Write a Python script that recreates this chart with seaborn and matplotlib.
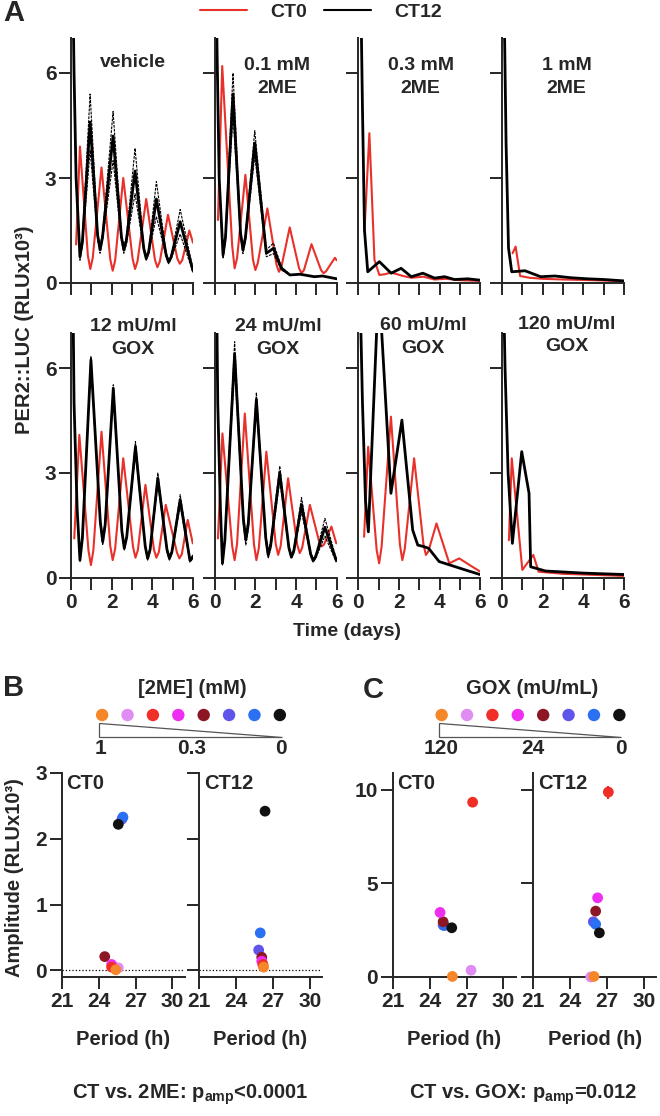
import matplotlib
matplotlib.use("Agg")
import matplotlib.pyplot as plt
from matplotlib.lines import Line2D
from matplotlib.patches import Polygon
import seaborn as sns
import pandas as pd

# ---- panel A traces (time in days, PER2::LUC in RLU x10^3) ----
veh_ct0_t = [0.25, 0.44, 0.83, 0.95, 1.07, 1.5, 1.93, 2.05, 2.17, 2.57, 3.03, 3.15, 3.27, 3.7,
             4.13, 4.25, 4.37, 4.77, 5.23, 5.35, 5.47, 5.82, 6.0]
veh_ct0_y = [1.1, 3.9, 0.78, 0.4, 0.72, 3.3, 0.68, 0.35, 0.64, 3.0, 0.69, 0.4, 0.62, 2.4,
             0.66, 0.45, 0.62, 1.95, 0.7, 0.55, 0.65, 1.5, 1.15]
veh_ct12_t = [0.08, 0.15, 0.25, 0.44, 0.56, 0.94, 1.31, 1.43, 1.55, 2.07, 2.48, 2.6, 2.72, 3.15,
              3.58, 3.7, 3.82, 4.2, 4.68, 4.8, 4.92, 5.37, 6.0]
veh_ct12_y = [9.0, 6.0, 3.0, 0.75, 1.17, 4.6, 1.36, 0.95, 1.31, 4.2, 1.31, 0.95, 1.2, 3.2,
              0.98, 0.7, 0.89, 2.4, 0.8, 0.6, 0.73, 1.75, 0.35]
veh_ct12_sd = [0, 0, 0, 0.1, 0.1, 0.8, 0.1, 0.1, 0.1, 0.7, 0.1, 0.1, 0.1, 0.65,
               0.05, 0.05, 0.05, 0.5, 0.05, 0.05, 0.05, 0.35, 0.05]

me01_ct0_t = [0.16, 0.37, 0.86, 0.98, 1.1, 1.51, 1.88, 2.0, 2.12, 2.59, 3.04, 3.16, 3.28, 3.69,
              4.15, 4.27, 4.39, 4.76, 5.23, 5.35, 5.47, 5.91, 6.0]
me01_ct0_y = [1.8, 6.2, 1.06, 0.42, 0.71, 3.09, 0.67, 0.37, 0.57, 2.13, 0.52, 0.32, 0.46, 1.59,
              0.42, 0.28, 0.37, 1.11, 0.37, 0.28, 0.33, 0.72, 0.65]
me01_ct12_t = [0.06, 0.12, 0.22, 0.41, 0.53, 0.9, 1.27, 1.39, 1.51, 1.97, 2.54, 2.89, 3.28, 3.7,
               4.2, 4.9, 5.3, 6.0]
me01_ct12_y = [9.0, 6.5, 3.0, 0.8, 1.3, 5.4, 1.43, 0.94, 1.29, 4.0, 0.85, 0.99, 0.42, 0.23,
               0.25, 0.18, 0.2, 0.12]
me01_ct12_sd = [0, 0, 0, 0.1, 0.1, 0.6, 0.1, 0.1, 0.1, 0.35, 0.1, 0.15, 0.05, 0,
                0, 0, 0, 0]

me03_ct0_t = [0.3, 0.54, 0.79, 1.03, 1.3, 1.6, 2.2, 2.6, 3.2, 3.75, 4.3, 5.0, 6.0]
me03_ct0_y = [1.5, 4.28, 0.66, 0.23, 0.25, 0.3, 0.2, 0.15, 0.18, 0.1, 0.12, 0.08, 0.06]
me03_ct12_t = [0.1, 0.2, 0.3, 0.46, 1.03, 1.61, 2.1, 2.6, 3.17, 3.75, 4.24, 4.73, 5.38, 6.0]
me03_ct12_y = [9.0, 5.0, 1.5, 0.32, 0.61, 0.28, 0.42, 0.18, 0.28, 0.14, 0.18, 0.1, 0.12, 0.08]

me1_ct0_t = [0.52, 0.67, 0.89, 1.35, 2.0, 3.0, 4.5, 6.0]
me1_ct0_y = [0.85, 1.04, 0.2, 0.15, 0.12, 0.1, 0.08, 0.05]
me1_ct12_t = [0.08, 0.2, 0.32, 0.48, 1.13, 1.9, 2.6, 3.4, 4.2, 5.0, 6.0]
me1_ct12_y = [9.0, 4.0, 1.0, 0.32, 0.35, 0.18, 0.2, 0.15, 0.12, 0.1, 0.06]

gox12_ct0_t = [0.16, 0.41, 0.86, 0.98, 1.1, 1.5, 1.93, 2.05, 2.17, 2.57, 3.05, 3.17, 3.29, 3.66,
               4.08, 4.2, 4.32, 4.66, 5.21, 5.33, 5.45, 5.74, 5.99]
gox12_ct0_y = [1.13, 4.09, 0.78, 0.37, 0.79, 4.18, 0.92, 0.51, 0.83, 3.42, 0.89, 0.58, 0.8, 2.66,
               0.81, 0.58, 0.74, 2.09, 0.73, 0.56, 0.68, 1.66, 0.99]
gox12_ct12_t = [0.08, 0.15, 0.3, 0.44, 0.56, 0.98, 1.44, 1.56, 1.68, 2.08, 2.5, 2.62, 2.74, 3.17,
                3.65, 3.77, 3.89, 4.27, 4.72, 4.84, 4.96, 5.37, 5.85, 6.0]
gox12_ct12_y = [9.0, 5.0, 2.0, 0.51, 1.14, 6.23, 1.61, 1.04, 1.52, 5.42, 1.35, 0.85, 1.17, 3.75,
                0.91, 0.56, 0.81, 2.85, 0.81, 0.56, 0.74, 2.23, 0.5, 0.61]
gox12_ct12_sd = [0, 0, 0, 0.05, 0.05, 0.1, 0.1, 0.1, 0.1, 0.1, 0.05, 0.05, 0.05, 0.15,
                 0.05, 0.05, 0.05, 0.15, 0.05, 0.05, 0.05, 0.15, 0.05, 0.05]

gox24_ct0_t = [0.16, 0.38, 0.86, 0.98, 1.1, 1.48, 1.93, 2.05, 2.17, 2.54, 3.0, 3.12, 3.24, 3.61,
               4.06, 4.18, 4.3, 4.68, 5.14, 5.26, 5.38, 5.74, 5.98]
gox24_ct0_y = [1.13, 4.13, 0.91, 0.51, 0.98, 4.7, 0.97, 0.51, 0.85, 3.61, 0.98, 0.66, 0.9, 2.85,
               0.95, 0.71, 0.86, 2.09, 1.03, 0.9, 0.96, 1.47, 0.99]
gox24_ct12_t = [0.08, 0.15, 0.28, 0.38, 0.5, 0.98, 1.41, 1.53, 1.65, 2.05, 2.51, 2.63, 2.75, 3.2,
                3.65, 3.77, 3.89, 4.27, 4.72, 4.84, 4.96, 5.42, 5.98]
gox24_ct12_y = [9.0, 5.0, 2.0, 0.42, 1.08, 6.4, 1.68, 1.09, 1.53, 5.1, 1.15, 0.66, 0.92, 3.0,
                0.86, 0.6, 0.77, 2.1, 0.68, 0.5, 0.6, 1.45, 0.5]
gox24_ct12_sd = [0, 0, 0, 0.05, 0.05, 0.35, 0.15, 0.15, 0.15, 0.2, 0.1, 0.1, 0.1, 0.2,
                 0.05, 0.05, 0.05, 0.2, 0.05, 0.05, 0.05, 0.25, 0.05]

gox60_ct0_t = [0.28, 0.48, 0.9, 1.02, 1.14, 1.6, 2.04, 2.16, 2.28, 2.74, 3.2, 3.32, 3.44, 3.84,
               4.47, 4.96, 5.47, 6.0]
gox60_ct0_y = [1.18, 3.75, 0.79, 0.42, 0.89, 4.61, 0.96, 0.51, 0.83, 3.42, 0.96, 0.66, 0.76, 1.56,
               0.42, 0.56, 0.37, 0.18]
gox60_ct12_t = [0.05, 0.2, 0.35, 0.49, 1.0, 1.6, 2.14, 2.67, 2.92, 3.2, 3.45, 3.97, 5.26, 6.03]
gox60_ct12_y = [9.0, 5.0, 2.2, 1.32, 8.5, 2.42, 4.51, 1.37, 0.94, 0.9, 0.85, 0.47, 0.23, 0.09]

gox120_ct0_t = [0.34, 0.48, 1.0, 1.54, 1.8, 3.0, 6.0]
gox120_ct0_y = [1.08, 3.42, 0.23, 0.66, 0.18, 0.12, 0.06]
gox120_ct12_t = [0.05, 0.15, 0.3, 0.51, 0.97, 1.33, 1.41, 2.14, 4.0, 6.0]
gox120_ct12_y = [9.0, 6.0, 3.0, 0.99, 3.61, 2.42, 0.32, 0.2, 0.14, 0.1]

panel_titles = ["vehicle", "0.1 mM\n2ME", "0.3 mM\n2ME", "1 mM\n2ME",
                "12 mU/ml\nGOX", "24 mU/ml\nGOX", "60 mU/ml\nGOX", "120 mU/ml\nGOX"]

# ---- panels B / C : period vs amplitude ----
dose_colors = ["#f5862a", "#e08cf2", "#f02e28", "#ee2ef0", "#8c1624", "#5f55ea", "#2b6ff2", "#111111"]
draw_order = [1, 5, 6, 4, 3, 2, 0, 7]
me_dose_labels = ["1", "0.3", "0"]
gox_dose_labels = ["120", "24", "0"]

period_2me_ct0 = [25.4, 25.6, 25.06, 25.06, 24.5, 25.9, 25.98, 25.6]
amp_2me_ct0 = [0.01, 0.04, 0.05, 0.09, 0.21, 2.3, 2.33, 2.22]
period_2me_ct12 = [26.25, 26.2, 26.2, 26.1, 26.1, 25.85, 25.98, 26.37]
amp_2me_ct12 = [0.05, 0.07, 0.09, 0.14, 0.2, 0.31, 0.57, 2.42]
err_2me_ct12 = [0, 0, 0, 0, 0, 0, 0, 0.08]

period_gox_ct0 = [25.85, 27.37, 27.5, 24.85, 25.1, 25.1, 25.2, 25.8]
amp_gox_ct0 = [0.03, 0.36, 9.34, 3.45, 2.95, 2.77, 2.75, 2.63]
err_gox_ct0 = [0, 0, 0.2, 0, 0, 0, 0, 0]
period_gox_ct12 = [25.93, 25.67, 27.1, 26.23, 26.07, 25.88, 26.07, 26.37]
amp_gox_ct12 = [0.03, 0.0, 9.88, 4.23, 3.52, 2.95, 2.82, 2.36]
err_gox_ct12 = [0, 0, 0.35, 0, 0, 0, 0, 0]

RED = "#e8312a"
W, H = 660, 1116

sns.set_style("ticks")
plt.rcParams["font.family"] = ["Liberation Sans", "DejaVu Sans"]
plt.rcParams["font.weight"] = "bold"
plt.rcParams["axes.labelweight"] = "bold"
plt.rcParams["mathtext.fontset"] = "custom"
plt.rcParams["mathtext.rm"] = "Liberation Sans:bold"
plt.rcParams["mathtext.it"] = "Liberation Sans:bold"
plt.rcParams["mathtext.bf"] = "Liberation Sans:bold"

fig = plt.figure(figsize=(W / 100, H / 100), dpi=100)


def px_axes(left, top, right, bottom):
    return fig.add_axes([left / W, 1 - bottom / H, (right - left) / W, (bottom - top) / H])


def style_axes(ax, fs=15):
    sns.despine(ax=ax)
    for s in ("left", "bottom"):
        ax.spines[s].set_linewidth(1.4)
    ax.tick_params(direction="out", length=8.5, width=1.4, labelsize=fs, pad=2)


def draw_trace(ax, t, y, sd=None, color="black"):
    if sd is not None:
        lo = [a - b for a, b in zip(y, sd)]
        hi = [a + b for a, b in zip(y, sd)]
        sns.lineplot(x=t, y=hi, ax=ax, color=color, lw=0.8, ls=(0, (2.5, 1)), sort=False, estimator=None)
        sns.lineplot(x=t, y=lo, ax=ax, color=color, lw=0.8, ls=(0, (2.5, 1)), sort=False, estimator=None)
    lw = 2.0 if color == "black" else 1.5
    sns.lineplot(x=t, y=y, ax=ax, color=color, lw=lw, sort=False, estimator=None)


traces = [
    (veh_ct0_t, veh_ct0_y, veh_ct12_t, veh_ct12_y, veh_ct12_sd),
    (me01_ct0_t, me01_ct0_y, me01_ct12_t, me01_ct12_y, me01_ct12_sd),
    (me03_ct0_t, me03_ct0_y, me03_ct12_t, me03_ct12_y, None),
    (me1_ct0_t, me1_ct0_y, me1_ct12_t, me1_ct12_y, None),
    (gox12_ct0_t, gox12_ct0_y, gox12_ct12_t, gox12_ct12_y, gox12_ct12_sd),
    (gox24_ct0_t, gox24_ct0_y, gox24_ct12_t, gox24_ct12_y, gox24_ct12_sd),
    (gox60_ct0_t, gox60_ct0_y, gox60_ct12_t, gox60_ct12_y, None),
    (gox120_ct0_t, gox120_ct0_y, gox120_ct12_t, gox120_ct12_y, None),
]
col_left = [71, 214.7, 358.4, 502]
row_top = [38, 333]
title_xy = [(0.51, 0.90), (0.51, 0.84), (0.51, 0.84), (0.53, 0.84),
            (0.51, 0.98), (0.52, 0.98), (0.53, 0.985), (0.53, 0.99)]

for i, (rt, ry, bt, by, bsd) in enumerate(traces):
    r, c = divmod(i, 4)
    ax = px_axes(col_left[c], row_top[r], col_left[c] + 122, row_top[r] + 245)
    draw_trace(ax, rt, ry, color=RED)
    draw_trace(ax, bt, by, sd=bsd, color="black")
    ax.set_xlim(0, 6)
    ax.set_ylim(0, 7)
    ax.set_xticks(range(7))
    ax.set_yticks([0, 3, 6])
    style_axes(ax)
    if r == 1:
        ax.set_xticklabels(["0", "", "2", "", "4", "", "6"])
    else:
        ax.set_xticklabels([])
    if c != 0:
        ax.set_yticklabels([])
    ax.set_xlabel("")
    ax.set_ylabel("")
    tx, ty = title_xy[i]
    ax.text(tx, ty, panel_titles[i], transform=ax.transAxes, ha="center", va="center",
            fontsize=14, linespacing=1.45, zorder=5)

fig.text(25 / W, 1 - 330 / H, "PER2::LUC (RLUx10³)", rotation=90, ha="center", va="center", fontsize=14.5)
fig.text(347 / W, 1 - 632 / H, "Time (days)", ha="center", va="center", fontsize=14)
fig.text(3 / W, 1 - 13 / H, "A", ha="left", va="center", fontsize=21)
fig.legend(handles=[Line2D([], [], color=RED, lw=1.5), Line2D([], [], color="black", lw=1.5)],
           labels=["CT0", "CT12"], loc="center", bbox_to_anchor=(321 / W, 1 - 12 / H), ncol=2,
           frameon=False, fontsize=14, handlelength=2.4, handletextpad=1.2, columnspacing=0.9)


def dose_key(left, title, labels, label_pos):
    ax = px_axes(left, 675, left + 198, 760)
    ax.set_xlim(-0.4, 7.4)
    ax.set_ylim(760, 675)
    ax.axis("off")
    key = pd.DataFrame({"i": list(range(8)), "y": [715] * 8, "c": dose_colors})
    sns.scatterplot(data=key, x="i", y="y", hue="c", palette=dict(zip(dose_colors, dose_colors)),
                    s=80, linewidth=0, legend=False, ax=ax, clip_on=False)
    ax.add_patch(Polygon([(-0.12, 723), (-0.12, 737), (7.08, 737)], closed=True,
                         facecolor="white", edgecolor="#555555", lw=0.9))
    for lab, xp in zip(labels, label_pos):
        ax.text(xp, 748, lab, ha="center", va="center", fontsize=15)
    ax.text(3.55, 688, title, ha="center", va="center", fontsize=14.5)


dose_key(92, "[2ME] (mM)", me_dose_labels, [-0.08, 3.54, 7.05])
dose_key(431.5, "GOX (mU/mL)", gox_dose_labels, [-0.03, 3.6, 7.05])


def period_panel(left, period, amp, err, ylim, yticks, show_labels, ct_label, zero_line):
    ax = px_axes(left, 773, left + 123, 977)
    df = pd.DataFrame({"period": [period[k] for k in draw_order],
                       "amp": [amp[k] for k in draw_order],
                       "c": [dose_colors[k] for k in draw_order]})
    if zero_line:
        ax.axhline(0, ls=":", color="black", lw=0.9, zorder=1)
    if err is not None:
        for k in range(8):
            if err[k] > 0:
                ax.errorbar(period[k], amp[k], yerr=err[k], fmt="none", ecolor=dose_colors[k],
                            elinewidth=1.6, capsize=0, zorder=2)
    sns.scatterplot(data=df, x="period", y="amp", hue="c", palette=dict(zip(dose_colors, dose_colors)),
                    s=60, linewidth=0, legend=False, ax=ax, zorder=3, clip_on=False)
    ax.set_xlim(21, 31)
    ax.set_ylim(*ylim)
    ax.set_xticks([21, 24, 27, 30])
    ax.set_yticks(yticks)
    style_axes(ax)
    if not show_labels:
        ax.set_yticklabels([])
    ax.set_xlabel("Period (h)", fontsize=14.5, labelpad=14)
    ax.set_ylabel("")
    ax.text(0.04, 0.95, ct_label, transform=ax.transAxes, ha="left", va="center", fontsize=14.5)
    return ax


period_panel(61.7, period_2me_ct0, amp_2me_ct0, None, (-0.1, 3), [0, 1, 2, 3], True, "CT0", True)
period_panel(199, period_2me_ct12, amp_2me_ct12, err_2me_ct12, (-0.1, 3), [0, 1, 2, 3], False, "CT12", True)
period_panel(392.7, period_gox_ct0, amp_gox_ct0, err_gox_ct0, (0, 10.9), [0, 5, 10], True, "CT0", False)
period_panel(533.3, period_gox_ct12, amp_gox_ct12, err_gox_ct12, (0, 10.9), [0, 5, 10], False, "CT12", False)

fig.text(15 / W, 1 - 878 / H, "Amplitude (RLUx10³)", rotation=90, ha="center", va="center", fontsize=14.5)
fig.text(3 / W, 1 - 688 / H, "B", ha="left", va="center", fontsize=21)
fig.text(363 / W, 1 - 690 / H, "C", ha="left", va="center", fontsize=21)
fig.text(190 / W, 1 - 1095 / H, r"CT vs. 2ME: p$_{\rm amp}$<0.0001", ha="center", va="center", fontsize=14.5)
fig.text(523 / W, 1 - 1095 / H, r"CT vs. GOX: p$_{\rm amp}$=0.012", ha="center", va="center", fontsize=14.5)

fig.savefig("out.png", dpi=100)
